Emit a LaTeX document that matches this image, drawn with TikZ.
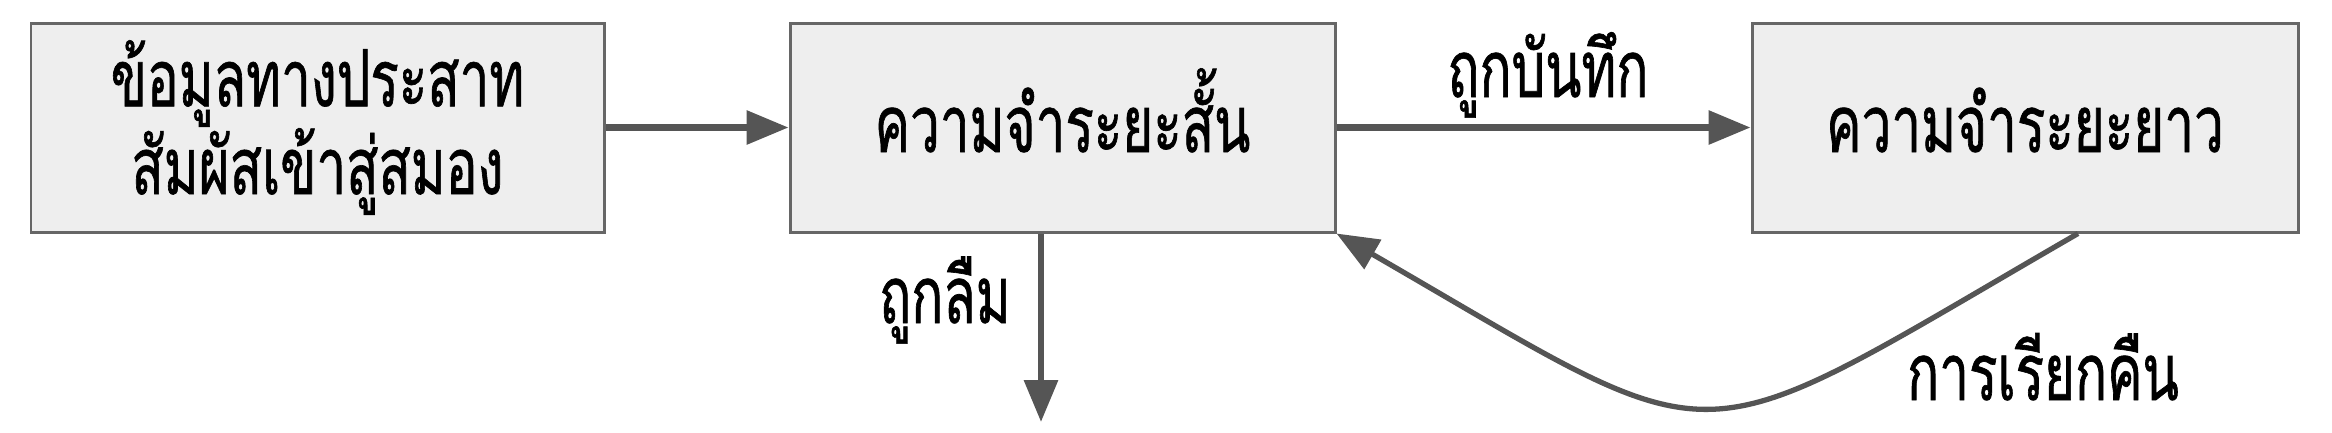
\documentclass[tikz,border=0pt]{standalone}
\usepackage{fontspec}
\newfontfamily\thaifont[Script=Thai,FakeStretch=0.67,FakeBold=0.8]{Loma}
\newcommand\tightlines{\lineskiplimit -20pt\relax}
\usetikzlibrary{arrows.meta}
\definecolor{boxfill}{HTML}{EEEEEE}
\definecolor{boxline}{HTML}{666666}
\definecolor{flowgray}{HTML}{555555}
\begin{document}
\begin{tikzpicture}[
  membox/.style={draw=boxline,fill=boxfill,line width=0.85pt,minimum height=2.09cm,
    inner sep=0pt,align=center,font=\thaifont\fontsize{22.5}{25}\selectfont\tightlines},
  oneline/.style={text height=0.6cm,text depth=0.11cm},
  flow/.style={draw=flowgray,line width=1.8pt,-{Triangle[length=0.42cm,width=0.33cm]}},
  flowlbl/.style={anchor=base,font=\thaifont\fontsize{22.5}{24}\selectfont}
]
\useasboundingbox (0,0) rectangle (23.32,4.32);

% Memory stages
\node[membox,minimum width=5.73cm] (sensory) at (3.175,3.045) {ข้อมูลทางประสาท\\สัมผัสเข้าสู่สมอง};
\node[membox,oneline,minimum width=5.45cm] (stm) at (10.625,3.045) {ความจำระยะสั้น};
\node[membox,oneline,minimum width=5.46cm] (ltm) at (20.25,3.045) {ความจำระยะยาว};

% Encoding
\draw[flow] (sensory) -- (stm);
\draw[flow] (stm) -- (ltm);
\node[flowlbl] (store) at (15.48,3.35) {ถูกบันทึก};

% Forgetting
\coordinate (lost) at (10.41,0.10);
\draw[flow] (stm.south -| lost) -- (lost);
\node[flowlbl] (forget) at (9.45,1.09) {ถูกลืม};

% Retrieval
\coordinate (ltmout) at ([xshift=0.53cm]ltm.south);
\draw[flow,line width=1.5pt] (ltmout) .. controls +(-4.00,-2.31) and +(4.00,-2.31) .. (stm.south east);
\node[flowlbl] (recall) at (20.43,0.32) {การเรียกคืน};
\end{tikzpicture}
\end{document}
